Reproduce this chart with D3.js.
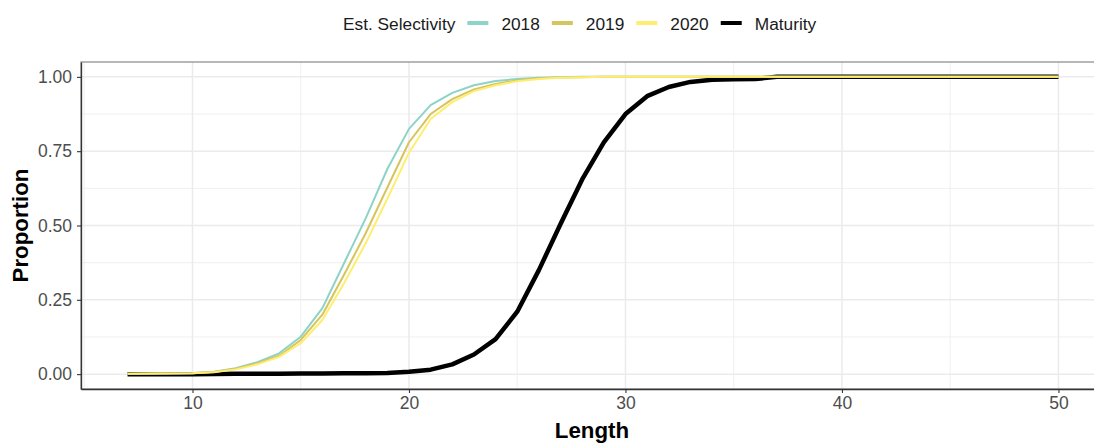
<!DOCTYPE html>
<html>
<head>
<meta charset="utf-8">
<script src="https://cdn.jsdelivr.net/npm/d3@7"></script>
<style>
  body { margin: 0; background: #fff; }
  text { font-family: "Liberation Sans", Arial, sans-serif; }
</style>
</head>
<body>
<div id="chart"></div>
<script>
// lengths (cm) where the curves were evaluated
const lengths = [7, 10, 11, 12, 13, 14, 15, 16, 17, 18, 19, 20, 21, 22, 23, 24, 25, 26, 27, 28,
  29, 30, 31, 32, 33, 34, 35, 36, 37, 38, 39, 40, 41, 42, 43, 44, 45, 46, 47, 48, 49, 50];

const sel2018 = [0.001, 0.003, 0.008, 0.02, 0.04, 0.07, 0.126, 0.222, 0.373, 0.524, 0.69, 0.825,
  0.905, 0.946, 0.972, 0.986, 0.993, 0.997, 0.999, 1, 1, 1, 1, 1, 1, 1, 1, 1, 1, 1, 1, 1, 1, 1,
  1, 1, 1, 1, 1, 1, 1, 1];
const sel2019 = [0.001, 0.003, 0.007, 0.018, 0.036, 0.062, 0.115, 0.2, 0.334, 0.474, 0.628, 0.78,
  0.875, 0.925, 0.958, 0.976, 0.988, 0.995, 0.998, 0.999, 1, 1, 1, 1, 1, 1, 1, 1, 1, 1, 1, 1, 1,
  1, 1, 1, 1, 1, 1, 1, 1, 1];
const sel2020 = [0.001, 0.003, 0.006, 0.016, 0.033, 0.058, 0.104, 0.182, 0.306, 0.44, 0.59, 0.745,
  0.858, 0.915, 0.952, 0.972, 0.985, 0.993, 0.997, 0.999, 1, 1, 1, 1, 1, 1, 1, 1, 1, 1, 1, 1, 1,
  1, 1, 1, 1, 1, 1, 1, 1, 1];
const maturity = [0, 0, 0.0005, 0.001, 0.001, 0.0015, 0.002, 0.002, 0.003, 0.003, 0.004, 0.008,
  0.015, 0.033, 0.066, 0.118, 0.21, 0.35, 0.505, 0.655, 0.78, 0.875, 0.935, 0.966, 0.983, 0.99,
  0.992, 0.993, 1, 1, 1, 1, 1, 1, 1, 1, 1, 1, 1, 1, 1, 1];

const seriesNames = ["2018", "2019", "2020", "Maturity"];
const seriesColours = ["#8dd3c7", "#d6c45c", "#ffed6f", "#000000"];
const xTicks = [10, 20, 30, 40, 50];
const yTicks = [0, 0.25, 0.5, 0.75, 1];

const W = 1094, H = 444;
const margin = { top: 62, right: -11, bottom: 55, left: 81 };

const svg = d3.select("#chart").append("svg")
  .attr("width", W).attr("height", H);

const x = d3.scaleLinear()
  .domain([7 - 0.05 * 43, 50 + 0.05 * 43])
  .range([margin.left, W - margin.right]);
const y = d3.scaleLinear()
  .domain([-0.05, 1.05])
  .range([H - margin.bottom, margin.top]);

// grid
const grid = svg.append("g");
const xMinor = [5, 15, 25, 35, 45];
const yMinor = [0.125, 0.375, 0.625, 0.875];
grid.selectAll(".xm").data(xMinor).join("line")
  .attr("x1", d => x(d)).attr("x2", d => x(d))
  .attr("y1", y.range()[0]).attr("y2", y.range()[1])
  .attr("stroke", "#ebebeb").attr("stroke-width", 0.8);
grid.selectAll(".ym").data(yMinor).join("line")
  .attr("y1", d => y(d)).attr("y2", d => y(d))
  .attr("x1", x.range()[0]).attr("x2", x.range()[1])
  .attr("stroke", "#ebebeb").attr("stroke-width", 0.8);
grid.selectAll(".xM").data(xTicks).join("line")
  .attr("x1", d => x(d)).attr("x2", d => x(d))
  .attr("y1", y.range()[0]).attr("y2", y.range()[1])
  .attr("stroke", "#ebebeb").attr("stroke-width", 1.5);
grid.selectAll(".yM").data(yTicks).join("line")
  .attr("y1", d => y(d)).attr("y2", d => y(d))
  .attr("x1", x.range()[0]).attr("x2", x.range()[1])
  .attr("stroke", "#ebebeb").attr("stroke-width", 1.5);

// lines: maturity underneath, selectivity on top
const line = d3.line().x(d => x(d[0])).y(d => y(d[1]));
const allSeries = [maturity, sel2018, sel2019, sel2020];
const drawColours = ["#000000", seriesColours[0], seriesColours[1], seriesColours[2]];
const drawWidths = [4.5, 2, 2, 2];

svg.append("g").selectAll("path")
  .data(allSeries)
  .join("path")
  .attr("d", vals => line(lengths.map((l, i) => [l, vals[i]])))
  .attr("fill", "none")
  .attr("stroke", (d, i) => drawColours[i])
  .attr("stroke-width", (d, i) => drawWidths[i])
  .attr("stroke-linejoin", "round");

// panel border + axes
svg.append("rect")
  .attr("x", x.range()[0]).attr("y", y.range()[1])
  .attr("width", x.range()[1] - x.range()[0])
  .attr("height", y.range()[0] - y.range()[1])
  .attr("fill", "none").attr("stroke", "#888").attr("stroke-width", 1.2);

const xAxis = svg.append("g")
  .attr("transform", "translate(0," + y.range()[0] + ")")
  .call(d3.axisBottom(x).tickValues(xTicks).tickSize(4).tickSizeOuter(0).tickPadding(4));
const yAxis = svg.append("g")
  .attr("transform", "translate(" + x.range()[0] + ",0)")
  .call(d3.axisLeft(y).tickValues(yTicks).tickFormat(d3.format(".2f"))
    .tickSize(4).tickSizeOuter(0).tickPadding(5));

[xAxis, yAxis].forEach(a => {
  a.select(".domain").attr("stroke", "#333").attr("stroke-width", 1.3);
  a.selectAll(".tick line").attr("stroke", "#333").attr("stroke-width", 1.1);
  a.selectAll(".tick text")
    .attr("fill", "#4d4d4d")
    .style("font-size", "17.5px")
    .style("font-family", "'Liberation Sans', Arial, sans-serif");
});

// axis titles
svg.append("text")
  .attr("x", 592)
  .attr("y", 438)
  .attr("text-anchor", "middle")
  .style("font-size", "22.3px").style("font-weight", "bold")
  .text("Length");
svg.append("text")
  .attr("transform", "translate(27.5," + (y.range()[0] + y.range()[1]) / 2 + ") rotate(-90)")
  .attr("text-anchor", "middle")
  .style("font-size", "22.3px").style("font-weight", "bold")
  .text("Proportion");

// legend
const legend = svg.append("g");
let cx = 343;
const baseY = 29.5, keyY = 23;
const title = legend.append("text")
  .attr("x", cx).attr("y", baseY)
  .style("font-size", "17.3px").attr("fill", "#1a1a1a")
  .text("Est. Selectivity");
cx += title.node().getComputedTextLength() + 12;
seriesNames.forEach((name, i) => {
  legend.append("line")
    .attr("x1", cx).attr("x2", cx + 21)
    .attr("y1", keyY).attr("y2", keyY)
    .attr("stroke", seriesColours[i]).attr("stroke-width", 4);
  cx += 21 + 13;
  const t = legend.append("text")
    .attr("x", cx).attr("y", baseY)
    .style("font-size", "17.3px").attr("fill", "#1a1a1a")
    .text(name);
  cx += t.node().getComputedTextLength() + 12;
});
</script>
</body>
</html>
